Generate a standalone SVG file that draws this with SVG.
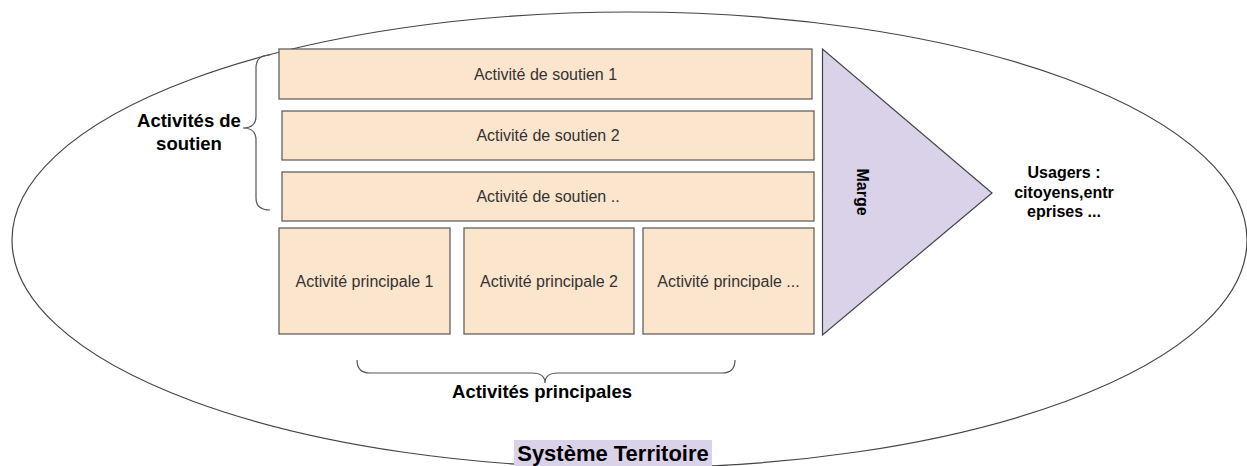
<svg xmlns="http://www.w3.org/2000/svg" width="1247" height="466" viewBox="0 0 1247 466">
<style>
.box{fill:#fce5cd;stroke:#555;stroke-width:1.2}
.bt{font-family:"Liberation Sans",Arial,sans-serif;font-size:16px;fill:#333;text-anchor:middle}
.lbl{font-family:"Liberation Sans",Arial,sans-serif;font-weight:bold;fill:#000;text-anchor:middle}
.brace{fill:none;stroke:#555;stroke-width:1.2}
</style>
<rect width="1247" height="466" fill="#fff"/>
<g id="systeme">
<ellipse cx="629.5" cy="240" rx="617.5" ry="228" fill="none" stroke="#444" stroke-width="1.2"/>
</g>
<g id="soutien1"><rect class="box" x="279" y="49" width="533" height="50"/><text class="bt" x="545.5" y="79.5">Activité de soutien 1</text></g>
<g id="soutien2"><rect class="box" x="282" y="111" width="532" height="49"/><text class="bt" x="548" y="141">Activité de soutien 2</text></g>
<g id="soutien3"><rect class="box" x="282" y="172" width="532" height="49"/><text class="bt" x="548" y="202">Activité de soutien ..</text></g>
<g id="principale1"><rect class="box" x="279" y="228" width="171" height="106"/><text class="bt" x="364.5" y="286.5">Activité principale 1</text></g>
<g id="principale2"><rect class="box" x="464" y="228" width="170" height="106"/><text class="bt" x="549" y="286.5">Activité principale 2</text></g>
<g id="principale3"><rect class="box" x="643" y="228" width="171" height="106"/><text class="bt" x="728.5" y="286.5">Activité principale ...</text></g>
<g id="marge">
<polygon points="822.5,49 822.5,335 992,193" fill="#d9d2e9" stroke="#444" stroke-width="1.2"/>
<text class="lbl" font-size="16" transform="translate(857,192) rotate(90)" x="0" y="0">Marge</text>
</g>
<g id="usagers">
<text class="lbl" font-size="16" x="1064" y="178">Usagers :</text>
<text class="lbl" font-size="16" x="1064" y="197.5">citoyens,entr</text>
<text class="lbl" font-size="16" x="1064" y="217">eprises ...</text>
</g>
<g id="connectors">
<path class="brace" d="M270,55 Q256,55 256,68 L256,116 Q256,128 243,128 Q256,128 256,140 L256,198 Q256,210 270,210"/>
<path class="brace" d="M357,360 Q357,373 370,373 L532,373 Q545,373 545,383 Q545,373 558,373 L722,373 Q735,373 735,360"/>
</g>
<g id="label-soutien">
<text class="lbl" font-size="18.5" x="189" y="127">Activités de</text>
<text class="lbl" font-size="18.5" x="189" y="150">soutien</text>
</g>
<g id="label-principales">
<text class="lbl" font-size="18.5" x="542" y="398">Activités principales</text>
</g>
<g id="label-systeme">
<rect x="514" y="440" width="198" height="26" fill="#d9d2e9"/>
<text class="lbl" font-size="22" x="613" y="461">Système Territoire</text>
</g>
</svg>
